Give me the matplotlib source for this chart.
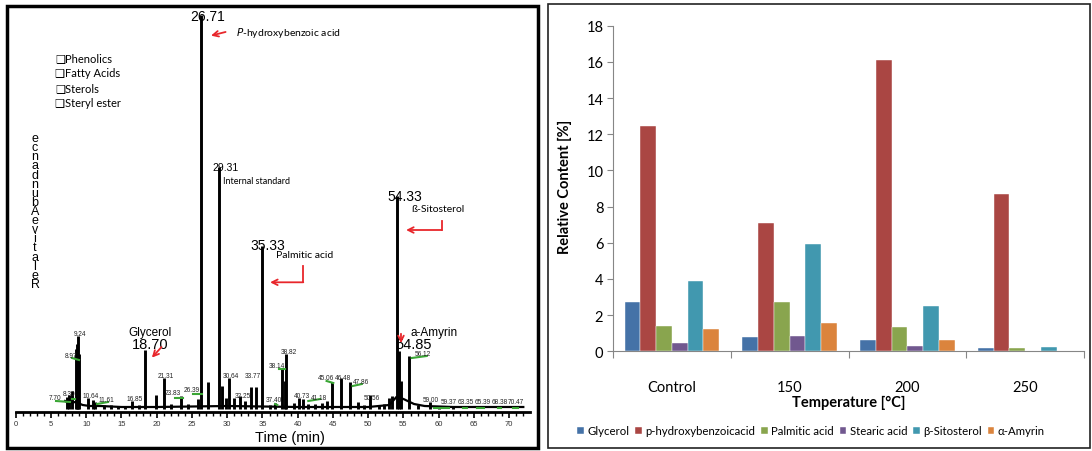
import matplotlib
matplotlib.use('Agg')
import matplotlib.pyplot as plt
from matplotlib.patches import Rectangle
from matplotlib.ticker import MultipleLocator

# ---------------- left panel: GC chromatogram ----------------
# peaks as they are drawn (retention time in min, height in arbitrary units)
peak_times = [7.3, 7.6, 8.0, 8.6, 8.75, 8.88, 9.0, 10.2, 11.0, 11.3, 12.5, 13.5,
              14.5, 15.5, 16.5, 17.5, 18.3, 19.9, 21.0, 22.0, 23.4, 24.5, 25.9,
              26.3, 27.3, 28.88, 29.2, 29.8, 30.26, 31.0, 31.8, 32.5, 33.4, 34.1,
              34.98, 36.0, 36.8, 37.8, 38.15, 38.4, 39.5, 40.2, 40.7, 41.5, 42.5,
              43.5, 44.2, 44.8, 46.1, 47.4, 48.5, 49.4, 50.2, 51.5, 52.3, 52.9,
              53.4, 54.04, 54.37, 54.6, 55.8, 57.0, 58.7, 60.0, 62.0]
peak_heights = [12, 14, 18, 60, 65, 73, 55, 11, 9, 7, 4, 4,
                3, 3, 8, 4, 59, 14, 31, 5, 13, 5, 10,
                394, 27, 242, 23, 11, 31, 11, 13, 8, 22, 22,
                163, 4, 6, 40, 28, 55, 6, 11, 10, 5, 5,
                6, 8, 27, 31, 27, 7, 4, 14, 4, 5, 11,
                13, 213, 58, 28, 53, 4, 7, 3, 2]

baseline_times = [7.0, 7.5, 8.5, 9.5, 10.5, 12.0, 15.0, 20.0, 30.0, 40.0, 50.0,
                  53.0, 54.0, 55.0, 56.5, 58.0, 62.0, 72.0]
baseline_levels = [8, 6, 7, 4, 3, 3, 2, 2, 3, 2, 2, 4, 12, 10, 5, 3, 2, 2]

rt_labels = ['7.70', '8.30', '8.97', '9.24', '10.64', '11.61', '16.85', '21.31',
             '23.83', '26.39', '30.64', '32.25', '33.77', '37.40', '38.14', '38.82',
             '40.73', '41.18', '45.06', '46.48', '47.86', '50.56', '56.12', '59.00',
             '59.37', '63.35', '65.39', '68.38', '70.47']
rt_label_t = [5.57, 7.6, 7.84, 9.12, 10.68, 12.9, 16.92, 21.28,
              22.3, 24.96, 30.5, 32.24, 33.66, 36.64, 37.06, 38.77,
              40.61, 43.06, 44.0, 46.45, 48.94, 50.58, 57.73, 58.9,
              61.4, 63.85, 66.2, 68.6, 70.95]
rt_label_h = [11, 15, 54, 76, 13, 9, 10, 33,
              16, 19, 34, 13, 33, 9, 44, 57,
              13, 11, 32, 32, 28, 11, 56, 9,
              7, 7, 7, 7, 7]

# green integration marks: start/end time, start/end height
mark_t0 = [5.72, 7.94, 7.99, 11.53, 22.6, 25.15, 36.8, 37.35, 41.5, 44.1, 47.8,
           56.17, 59.3, 63.4, 65.4, 68.45, 70.5]
mark_t1 = [7.7, 8.41, 8.98, 13.09, 23.73, 26.38, 37.1, 38.2, 43.2, 45.05, 49.1,
           58.3, 61.5, 64.0, 66.4, 68.85, 71.3]
mark_h0 = [8, 10, 51, 5, 11, 15, 5, 40, 8, 28, 23, 51, 1, 1, 1, 1, 1]
mark_h1 = [7, 10, 49, 7, 11, 15, 4, 40, 10, 26, 25, 53, 1, 1, 1, 1, 1]

class_labels = ['Phenolics', 'Fatty Acids', 'Sterols', 'Steryl ester']

# ---------------- right panel: bar chart ----------------
temperatures = ['Control', '150', '200', '250']
glycerol = [2.7, 0.8, 0.62, 0.18]
p_hydroxybenzoic = [12.45, 7.07, 16.1, 8.68]
palmitic = [1.4, 2.75, 1.33, 0.18]
stearic = [0.48, 0.85, 0.31, 0.0]
sitosterol = [3.9, 5.94, 2.52, 0.25]
amyrin = [1.25, 1.55, 0.62, 0.0]
series_names = ['Glycerol', 'p-hydroxybenzoicacid', 'Palmitic acid', 'Stearic acid',
                'β-Sitosterol', 'α-Amyrin']
series_colors = ['#4572A7', '#AA4643', '#89A54E', '#71588F', '#4198AF', '#DB843D']

W, H = 1092, 452
fig = plt.figure(figsize=(W / 100, H / 100), dpi=100)
NUM = ['Liberation Sans', 'DejaVu Sans']
WORD = ['Lato', 'DejaVu Sans']


def fx(px):
    return px / W


def fy(py):
    return 1 - py / H


# panel frames
fig.patches.append(Rectangle((fx(7), fy(449)), fx(531), 442 / H, transform=fig.transFigure,
                             fill=False, lw=2.5, ec='black'))
fig.patches.append(Rectangle((fx(548), fy(449)), fx(542), 444 / H, transform=fig.transFigure,
                             fill=False, lw=1.2, ec='#222222'))

# ---- chromatogram ----
ax1 = fig.add_axes([fx(15.7), fy(413), fx(530 - 15.7), (413 - 8) / H])
ax1.set_xlim(0, 72.95)
ax1.set_ylim(-3, 402)
ax1.plot(baseline_times, baseline_levels, color='black', lw=1.6)
ax1.vlines(peak_times, 0, peak_heights, color='black', lw=2.1)
for i in range(len(mark_t0)):
    ax1.plot([mark_t0[i], mark_t1[i]], [mark_h0[i], mark_h1[i]], color='#3aa635', lw=1.5)
for i in range(len(rt_labels)):
    ax1.text(rt_label_t[i], rt_label_h[i], rt_labels[i], fontsize=4.7, ha='center',
             va='center', color='#222222', family=NUM)
for s in ['top', 'right', 'left']:
    ax1.spines[s].set_visible(False)
ax1.spines['bottom'].set_linewidth(2)
ax1.set_yticks([])
ax1.xaxis.set_major_locator(MultipleLocator(5))
ax1.xaxis.set_minor_locator(MultipleLocator(1))
ax1.tick_params(axis='x', which='major', length=4, width=1.2, pad=1.5, labelsize=5.5,
                labelcolor='#333333')
ax1.tick_params(axis='x', which='minor', length=3, width=1.0)
for lab in ax1.get_xticklabels():
    lab.set_family(NUM)

# annotated compounds
ax1.text(27.28, 393, '26.71', fontsize=10, ha='center', va='center', family=NUM)
ax1.annotate('', xy=(27.32, 372.7), xytext=(30.15, 377.7),
             arrowprops=dict(arrowstyle='->', color='#e8262b', lw=1.3))
ax1.text(31.25, 377, r'$\it{P}$-hydroxybenzoic acid', fontsize=7.5, ha='left',
         va='center', family=WORD)
ax1.text(29.83, 241.7, '29.31', fontsize=7.5, ha='center', va='center', family=NUM)
ax1.text(29.45, 229, 'Internal standard', fontsize=6.5, ha='left', va='center', family=WORD)
ax1.text(35.69, 164, '35.33', fontsize=10, ha='center', va='center', family=NUM)
ax1.text(36.92, 155, 'Palmitic acid', fontsize=7.5, ha='left', va='center', family=WORD)
ax1.plot([40.79, 40.79], [143.3, 126.7], color='#e8262b', lw=1.3)
ax1.annotate('', xy=(35.69, 126.7), xytext=(40.79, 126.7),
             arrowprops=dict(arrowstyle='->', color='#e8262b', lw=1.3, shrinkA=0))
ax1.text(55.22, 213.3, '54.33', fontsize=10, ha='center', va='center', family=NUM)
ax1.text(56.17, 200.7, 'ß-Sitosterol', fontsize=7.5, ha='left', va='center', family=WORD)
ax1.plot([60.43, 60.43], [188.3, 179], color='#e8262b', lw=1.3)
ax1.annotate('', xy=(54.98, 179), xytext=(60.43, 179),
             arrowprops=dict(arrowstyle='->', color='#e8262b', lw=1.3, shrinkA=0))
ax1.text(19.05, 77.3, 'Glycerol', fontsize=8.5, ha='center', va='center', family=NUM)
ax1.text(19.05, 65, '18.70', fontsize=10.5, ha='center', va='center', family=NUM)
ax1.annotate('', xy=(19.05, 49.3), xytext=(20.94, 64),
             arrowprops=dict(arrowstyle='->', color='#e8262b', lw=1.3))
ax1.text(56.03, 76.7, 'a-Amyrin', fontsize=8.5, ha='left', va='center', family=NUM)
ax1.text(56.4, 65, '54.85', fontsize=10.5, ha='center', va='center', family=NUM)
ax1.annotate('', xy=(54.65, 63), xytext=(54.65, 78),
             arrowprops=dict(arrowstyle='->', color='#e8262b', lw=1.3))

for i, name in enumerate(class_labels):
    fig.text(fx(55), fy(58.3 + 15.2 * i), '❑' + name, fontsize=8, ha='left', va='center',
             family=WORD)

fig.text(fx(35), fy(212), '\n'.join(reversed('RelativeAbundance')), fontsize=9,
         ha='center', va='center', linespacing=0.68, family=NUM)
fig.text(fx(290), fy(438), 'Time (min)', fontsize=10.5, ha='center', va='center', family=NUM)

# ---- bar chart ----
ax2 = fig.add_axes([fx(613), fy(352.3), fx(1084 - 613), 325.6 / H])
all_series = [glycerol, p_hydroxybenzoic, palmitic, stearic, sitosterol, amyrin]
bw = 0.134
xs = list(range(len(temperatures)))
for k, vals in enumerate(all_series):
    ax2.bar([x + (k - 2.5) * bw for x in xs], vals, width=bw, color=series_colors[k],
            label=series_names[k], edgecolor='white', linewidth=0.3)
ax2.set_xlim(-0.5, 3.5)
ax2.set_ylim(0, 18)
ax2.set_yticks(range(0, 19, 2))
ax2.set_xticks([-0.5, 0.5, 1.5, 2.5, 3.5])
ax2.set_xticklabels([])
ax2.set_xticks(xs, minor=True)
ax2.set_xticklabels(temperatures, minor=True)
for s in ['top', 'right']:
    ax2.spines[s].set_visible(False)
for s in ['left', 'bottom']:
    ax2.spines[s].set_color('#868686')
ax2.tick_params(axis='y', length=4, color='#868686', labelsize=10.5, pad=3)
ax2.tick_params(axis='x', which='major', length=5, color='#868686')
ax2.tick_params(axis='x', which='minor', length=0, labelsize=10.5, pad=21)
for lab in ax2.get_yticklabels() + ax2.get_xticklabels(minor=True):
    lab.set_family(WORD)

fig.text(fx(849), fy(403), 'Temperature [°C]', fontsize=10.5, fontweight='bold',
         ha='center', va='center', family=WORD)
fig.text(fx(565), fy(187), 'Relative Content [%]', fontsize=10.5, fontweight='bold',
         rotation=90, ha='center', va='center', family=WORD)
fig.legend(*ax2.get_legend_handles_labels(), loc='center', ncol=6,
           bbox_to_anchor=(fx(811), fy(432)), frameon=False, handlelength=0.6,
           handleheight=0.6, handletextpad=0.3, columnspacing=0.5,
           prop={'family': WORD, 'size': 8.2})

fig.savefig('out.png', dpi=100)
